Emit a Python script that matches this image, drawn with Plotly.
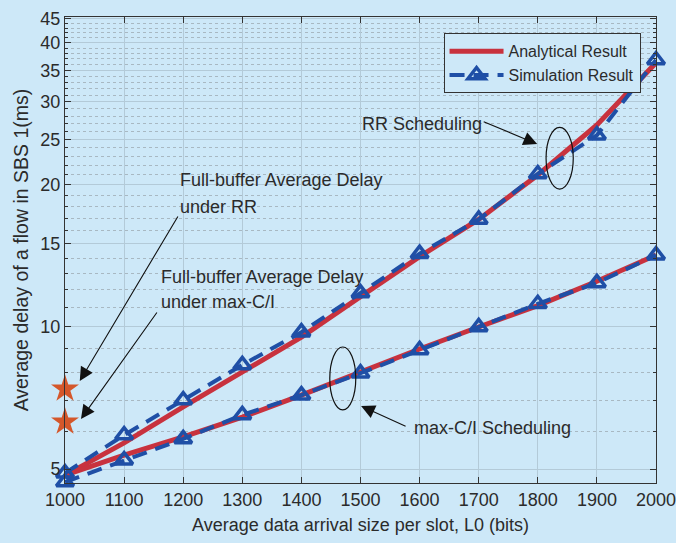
import plotly.graph_objects as go
import math

x_vals = [1000, 1100, 1200, 1300, 1400, 1500, 1600, 1700, 1800, 1900, 2000]
rr_analytical = [4.85, 5.68, 6.77, 8.03, 9.52, 11.6, 14.1, 16.9, 21.0, 26.8, 36.3]
rr_simulation = [4.90, 5.90, 7.00, 8.31, 9.75, 11.8, 14.3, 16.9, 21.1, 25.5, 36.8]
ci_analytical = [4.85, 5.35, 5.85, 6.44, 7.17, 8.05, 8.98, 10.0, 11.1, 12.5, 14.2]
ci_simulation = [4.69, 5.22, 5.79, 6.51, 7.17, 7.98, 8.94, 10.0, 11.2, 12.4, 14.2]
fullbuffer_x = [1000, 1000]
fullbuffer_y = [7.39, 6.29]

y_ticks = [5, 10, 15, 20, 25, 30, 35, 40, 45]
y_minor = [v for v in range(6, 45) if v % 5 != 0]
x_ticks = list(range(1000, 2001, 100))

Y_LO, Y_HI = math.log10(4.67), math.log10(45.4)


def ypaper(v):
    return (math.log10(v) - Y_LO) / (Y_HI - Y_LO)


BG = "#cde8f8"
RED = "#c8323e"
BLUE = "#1f4fa6"
FONT = "Liberation Sans, Arial, sans-serif"
TXT = "#2b2b2b"

fig = go.Figure()

fig.add_trace(go.Scatter(x=x_vals, y=rr_analytical, mode="lines", name="Analytical Result",
                         line=dict(color=RED, width=5), legendgroup="a", cliponaxis=False))
fig.add_trace(go.Scatter(x=x_vals, y=ci_analytical, mode="lines", name="Analytical Result",
                         line=dict(color=RED, width=5), legendgroup="a", showlegend=False, cliponaxis=False))
fig.add_trace(go.Scatter(x=x_vals, y=rr_simulation, mode="lines+markers", name="Simulation Result",
                         line=dict(color=BLUE, width=4, dash="15px,9px"),
                         marker=dict(symbol="triangle-up-open", size=15, color=BLUE, line=dict(width=3.5, color=BLUE)),
                         legendgroup="s", cliponaxis=False))
fig.add_trace(go.Scatter(x=x_vals, y=ci_simulation, mode="lines+markers", name="Simulation Result",
                         line=dict(color=BLUE, width=4, dash="15px,9px"),
                         marker=dict(symbol="triangle-up-open", size=15, color=BLUE, line=dict(width=3.5, color=BLUE)),
                         legendgroup="s", showlegend=False, cliponaxis=False))
fig.add_trace(go.Scatter(x=fullbuffer_x, y=fullbuffer_y, mode="markers", showlegend=False,
                         marker=dict(symbol="star", size=21, color="#d4572b", line=dict(width=0)),
                         cliponaxis=False))

ann_font = dict(family=FONT, size=18, color=TXT)
annotations = [
    dict(x=1191, y=1.3115, text="Full-buffer Average Delay", showarrow=False, xanchor="left", yanchor="middle"),
    dict(x=1191, y=1.2543, text="under RR", showarrow=False, xanchor="left", yanchor="middle"),
    dict(x=1159, y=1.106, text="Full-buffer Average Delay", showarrow=False, xanchor="left", yanchor="middle"),
    dict(x=1159, y=1.053, text="under max-C/I", showarrow=False, xanchor="left", yanchor="middle"),
    dict(x=1499, y=1.4302, text="RR Scheduling", showarrow=False, xanchor="left", yanchor="middle"),
    dict(x=1587, y=0.7859, text="max-C/I Scheduling", showarrow=False, xanchor="left", yanchor="middle"),
    # arrows
    dict(x=1025, y=0.8855, ax=99, ay=-166, text="", showarrow=True, arrowhead=2, arrowsize=2.5, arrowwidth=1.1, arrowcolor="#111"),
    dict(x=1027, y=0.805, ax=77, ay=-108, text="", showarrow=True, arrowhead=2, arrowsize=2.5, arrowwidth=1.1, arrowcolor="#111"),
    dict(x=1799, y=1.3878, ax=-55, ay=-23, text="", showarrow=True, arrowhead=2, arrowsize=2.5, arrowwidth=1.1, arrowcolor="#111"),
    dict(x=1501, y=0.8325, ax=46, ay=21, text="", showarrow=True, arrowhead=2, arrowsize=2.5, arrowwidth=1.1, arrowcolor="#111"),
]
for a in annotations:
    a["font"] = ann_font
    a["xref"] = "x"
    a["yref"] = "y"

shapes = [
    dict(type="circle", xref="x", yref="paper", x0=1814, x1=1860,
         y0=ypaper(19.6), y1=ypaper(26.5), line=dict(color="#111", width=1.2)),
    dict(type="circle", xref="x", yref="paper", x0=1448, x1=1492,
         y0=ypaper(6.67), y1=ypaper(9.07), line=dict(color="#111", width=1.2)),
]

fig.update_layout(
    width=676, height=543,
    margin=dict(l=65, r=20, t=17, b=60, autoexpand=False),
    paper_bgcolor=BG, plot_bgcolor=BG,
    font=dict(family=FONT, color=TXT, size=17),
    annotations=annotations, shapes=shapes,
    legend=dict(x=0.6405, y=0.965, xanchor="left", yanchor="top",
                bgcolor=BG, bordercolor="#333", borderwidth=1,
                font=dict(family=FONT, size=16, color=TXT), itemwidth=54,
                tracegroupgap=0),
)

fig.update_xaxes(
    range=[1000, 2000], tickvals=x_ticks, ticktext=[str(v) for v in x_ticks],
    showline=True, linecolor="#333", linewidth=1, mirror="ticks",
    ticks="inside", ticklen=6, tickcolor="#333", automargin=False,
    showgrid=True, gridcolor="#b3cad8", gridwidth=1, zeroline=False,
    tickfont=dict(family=FONT, size=18, color=TXT), ticklabeloverflow="allow",
    title=dict(text="Average data arrival size per slot, L0 (bits)", font=dict(family=FONT, size=18, color=TXT), standoff=9),
)
fig.update_yaxes(
    type="log", range=[Y_LO, Y_HI],
    tickvals=y_ticks, ticktext=[str(v) for v in y_ticks],
    showline=True, linecolor="#333", linewidth=1, mirror="ticks",
    ticks="inside", ticklen=6, tickcolor="#333", automargin=False,
    showgrid=True, gridcolor="#b3cad8", gridwidth=1, zeroline=False,
    tickfont=dict(family=FONT, size=18, color=TXT),
    title=dict(text="Average delay of a flow in SBS 1(ms)", font=dict(family=FONT, size=19.5, color=TXT), standoff=6),
    minor=dict(tickmode="array", tickvals=y_minor, ticks="inside", ticklen=3, tickcolor="#333",
               showgrid=True, gridcolor="#a8b8c2", griddash="dot", gridwidth=1),
)

fig.write_html("out.html")
